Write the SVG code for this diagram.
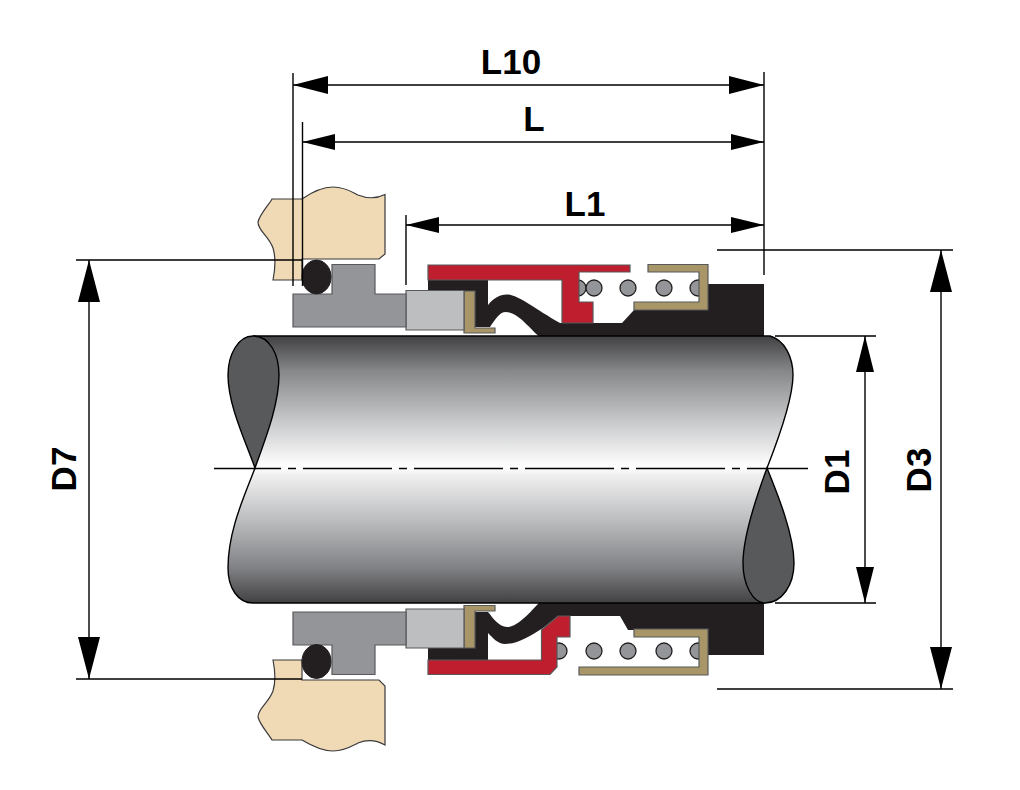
<svg xmlns="http://www.w3.org/2000/svg" width="1020" height="790" viewBox="0 0 1020 790">
<style>
.o{stroke:#58595b;stroke-width:1.2;stroke-linejoin:miter}
.housing{fill:#f0d9b5;stroke:#3a3a3c;stroke-width:1.2}
.gray{fill:#939598}
.light{fill:#bcbec0}
.tan{fill:#a99668}
.red{fill:#be1e2d}
.black{fill:#231f20}
.ring{fill:#231f20;stroke:#231f20}
.coil{fill:#939598;stroke:#231f20;stroke-width:1.3}
.dark{fill:#58595b;stroke:#000;stroke-width:1.4}
.dim{stroke:#000;stroke-width:1.4;fill:none}
.arr{fill:#000;stroke:none}
.label{font-family:"Liberation Sans",Arial,sans-serif;font-weight:700;font-size:35px;fill:#000;text-anchor:middle}
</style>
<defs>
<linearGradient id="shaftGrad" gradientUnits="userSpaceOnUse" x1="0" y1="336" x2="0" y2="603">
<stop offset="0" stop-color="#414042"/>
<stop offset="0.13" stop-color="#858789"/>
<stop offset="0.32" stop-color="#c8c9cb"/>
<stop offset="0.49" stop-color="#ffffff"/>
<stop offset="0.52" stop-color="#f0f0f0"/>
<stop offset="0.69" stop-color="#bcbdbf"/>
<stop offset="0.87" stop-color="#808184"/>
<stop offset="1" stop-color="#414042"/>
</linearGradient>
</defs>

<g id="housing-top">
<path class="housing" d="M272 199H302C312 192 322 187 333 187C345 187 352 192 358 195C368 199 378 198 385 194.5V254L379 259H302V280H273C275 270 276 258 273 248C268 235 258 231 258 222C260 214 268 206 272 199Z"/>
</g>
<g id="housing-bottom">
<path class="housing" d="M273 660H302V680H379L385 686V745C378 741 368 739 358 743C352 746 345 751 333 751C322 751 312 746 302 740H272C268 733 260 725 258 717C258 708 268 704 273 691C276 681 275 670 273 660Z"/>
</g>

<g id="seal-top">
<path class="black" d="M428 280H488V305C493 299 499 294.500 507 294.500C518 294.500 535 309 560 323H593L622 323L634 310H708V284H764V337H540C530 329 518 312 506 312C499 312 495 320 490 327H475V328H428Z"/>
<g id="spring-top">
<circle class="coil" cx="578" cy="288" r="8"/><circle class="coil" cx="594" cy="288" r="8"/><circle class="coil" cx="628" cy="288" r="8"/><circle class="coil" cx="664" cy="288" r="8"/><circle class="coil" cx="698" cy="288" r="8"/>
</g>
<path class="red o" d="M428 265H630V272H579V302H593V323H562V280H428Z"/>
<path class="tan o" d="M648 264.500H708V310H634V302H699V272H648Z"/>
<path class="tan o" d="M464 291H475V328H495V333H464Z"/>
<path class="light o" d="M406 290.500H464V330H406Z"/>
<path class="gray o" d="M293 294H332V264.500H375V294H406V327H293Z"/>
<ellipse class="ring" cx="316.500" cy="277" rx="14.500" ry="17"/>
</g>

<g id="seal-bottom">
<path class="black" d="M428 648V612H488C493 618 499 627 507 627C518 627 530 612 540 602H764V655H708V630H628L620 616H558L543 628C530 636 518 644 505 644C498 644 493 638 488 633V660H428Z"/>
<g id="spring-bottom">
<circle class="coil" cx="559" cy="651" r="8"/><circle class="coil" cx="594" cy="651" r="8"/><circle class="coil" cx="628" cy="651" r="8"/><circle class="coil" cx="664" cy="651" r="8"/><circle class="coil" cx="698" cy="651" r="8"/>
</g>
<path class="red o" d="M558 616H570V637H557V667L550 674.500H428V660H541.500V630L545 627Z"/>
<path class="tan o" d="M634 629H708V675H579V667H699V637H634Z"/>
<path class="tan o" d="M464 605.500H495V611H475V648H464Z"/>
<path class="light o" d="M406 609H464V648H406Z"/>
<path class="gray o" d="M293 612H406V645H375V674.500H332V645H293Z"/>
<ellipse class="ring" cx="316.500" cy="661.500" rx="14.500" ry="17"/>
</g>

<g id="shaft">
<path fill="url(#shaftGrad)" d="M253 336H770C785 340 793 358 793 375C793 400 778 440 767 468C778 495 794 535 794 563C794 585 782 603 765 603H253C238 603 228 588 228 568C228 530 245 495 255 468C245 440 228 405 228 375C228 355 238 336 253 336Z"/>
<path fill="none" stroke="#000" stroke-width="1.400" d="M253 336H770C785 340 793 358 793 375C793 400 778 440 767 468M255 468C245 495 228 530 228 568C228 588 238 603 253 603H765"/>
<path class="dark" d="M255 468C245 440 228 405 228 375C228 355 238 336 253 336C270 336 279 355 279 375C279 405 265 440 255 468Z"/>
<path class="dark" d="M767 468C778 495 794 535 794 563C794 585 782 603 765 603C753 603 743 585 743 563C743 535 757 495 767 468Z"/>
</g>

<g id="connectors">
<path d="M214 468.500H808" fill="none" stroke="#000" stroke-width="1.400" stroke-dasharray="89 7 8 7" stroke-dashoffset="22"/>
<path class="dim" d="M293 73V286M302.500 122V286M406 215V285M764 72V275"/>
<path class="dim" d="M293 85H764M302.500 142H764M406 225H764"/>
<path class="dim" d="M76 260H302M76 679H302M89 260V679"/>
<path class="dim" d="M775 336H876M775 603H876M865 336V603"/>
<path class="dim" d="M717 250H953M717 689H953M941 250V689"/>
<path class="arr" d="M293 85L328 76V94ZM764 85L729 76V94Z"/>
<path class="arr" d="M302.500 142L335 134V150ZM764 142L731 134V150Z"/>
<path class="arr" d="M406 225L439 217V233ZM764 225L731 217V233Z"/>
<path class="arr" d="M89 260L78 302H100ZM89 679L78 637H100Z"/>
<path class="arr" d="M865 336L856 372H874ZM865 603L856 567H874Z"/>
<path class="arr" d="M941 250L930 292H952ZM941 689L930 647H952Z"/>
</g>

<g id="labels">
<text class="label" x="511" y="74">L10</text>
<text class="label" x="534" y="131">L</text>
<text class="label" x="585" y="216">L1</text>
<text class="label" transform="translate(76 469) rotate(-90)">D7</text>
<text class="label" transform="translate(849 472) rotate(-90)">D1</text>
<text class="label" transform="translate(931 470) rotate(-90)">D3</text>
</g>
</svg>
